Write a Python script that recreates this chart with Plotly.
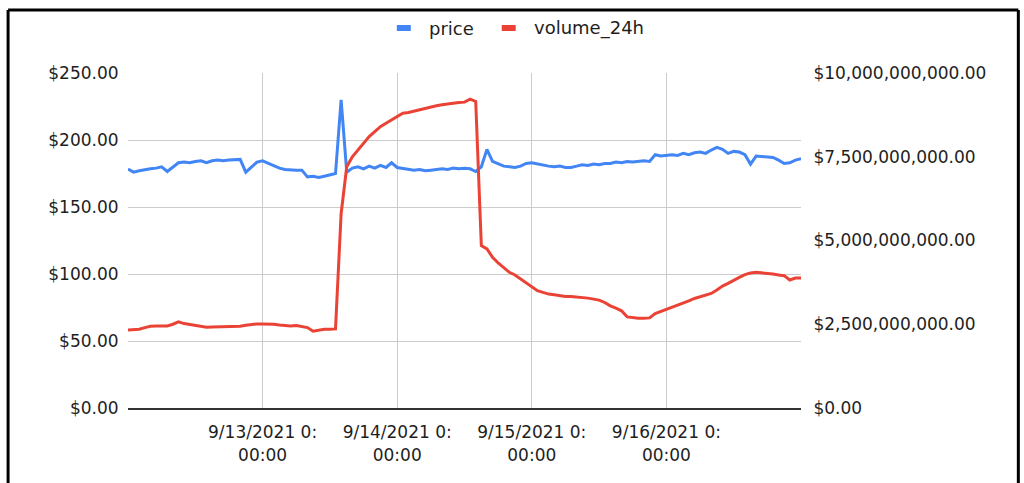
import pandas as pd
import plotly.graph_objects as go

# Hourly samples from 9/12/2021 00:00 to 9/17/2021 00:00
timestamps = pd.date_range("2021-09-12 00:00", periods=121, freq="h")

price = [
    178.3, 176.0, 177.0, 178.0, 178.5, 179.0, 180.0, 176.5, 180.0, 183.0,
    183.5, 183.0, 184.0, 184.5, 183.0, 184.5, 185.0, 184.5, 185.0, 185.5,
    185.5, 176.0, 180.0, 183.5, 184.5, 182.5, 180.5, 179.0, 178.0, 177.5,
    177.5, 177.5, 172.5, 173.0, 172.0, 173.0, 174.0, 175.0, 230.0, 176.0,
    179.0, 180.0, 178.5, 180.5, 179.0, 181.0, 179.5, 183.0, 179.5, 179.0,
    178.5, 177.5, 178.0, 177.0, 177.5, 178.0, 178.5, 178.0, 179.0, 178.5,
    179.0, 178.5, 176.5, 180.0, 193.0, 184.0, 182.0, 180.5, 180.0, 179.5,
    180.5, 182.5, 183.0, 182.0, 181.0, 180.5, 180.0, 180.5, 179.5, 179.5,
    180.5, 181.5, 181.0, 182.0, 181.5, 182.5, 182.5, 183.5, 183.0, 184.0,
    183.5, 184.0, 184.5, 184.0, 189.0, 188.0, 188.5, 189.0, 188.5, 190.0,
    189.0, 190.5, 191.0, 190.0, 192.5, 194.5, 193.0, 190.0, 191.5, 191.0,
    189.0, 182.0, 188.0, 187.5, 187.5, 187.0, 185.0, 182.5, 183.0, 185.0,
    186.0,
]

volume_24h_bn = [
    2.33, 2.33, 2.35, 2.40, 2.44, 2.45, 2.46, 2.45, 2.50, 2.57,
    2.52, 2.49, 2.46, 2.42, 2.41, 2.42, 2.42, 2.42, 2.43, 2.43,
    2.44, 2.47, 2.50, 2.51, 2.51, 2.51, 2.50, 2.48, 2.46, 2.45,
    2.46, 2.44, 2.40, 2.29, 2.33, 2.35, 2.35, 2.36, 5.80, 7.20,
    7.50, 7.70, 7.90, 8.10, 8.25, 8.40, 8.50, 8.60, 8.72, 8.80,
    8.82, 8.86, 8.90, 8.95, 9.00, 9.02, 9.05, 9.08, 9.10, 9.12,
    9.13, 9.22, 9.15, 4.85, 4.75, 4.50, 4.33, 4.20, 4.05, 3.97,
    3.85, 3.72, 3.60, 3.50, 3.45, 3.40, 3.38, 3.35, 3.33, 3.33,
    3.32, 3.31, 3.28, 3.25, 3.22, 3.15, 3.05, 2.98, 2.90, 2.72,
    2.69, 2.68, 2.68, 2.69, 2.82, 2.88, 2.95, 3.00, 3.06, 3.12,
    3.20, 3.27, 3.32, 3.36, 3.42, 3.52, 3.64, 3.72, 3.82, 3.90,
    3.98, 4.03, 4.05, 4.04, 4.02, 4.00, 3.97, 3.95, 3.82, 3.88,
    3.88,
]
volume_24h = [v * 1e9 for v in volume_24h_bn]

tick_dates = ["2021-09-13", "2021-09-14", "2021-09-15", "2021-09-16"]
tick_labels = [
    "9/13/2021 0:<br>00:00",
    "9/14/2021 0:<br>00:00",
    "9/15/2021 0:<br>00:00",
    "9/16/2021 0:<br>00:00",
]

series_names = ["price", "volume_24h"]

BLUE = "#4285F4"
RED = "#EA4335"
FONT = "DejaVu Sans, sans-serif"
TEXT = "#1e1e1e"

W, H = 1024, 483
L, R, T, B = 128, 222.5, 73, 75
pw, ph = W - L - R, H - T - B


def px(x):
    return (x - L) / pw


def py(y):
    return (H - B - y) / ph


fig = go.Figure()
fig.add_trace(go.Scatter(x=timestamps, y=price, mode="lines", name=series_names[0],
                         line=dict(color=BLUE, width=3)))
fig.add_trace(go.Scatter(x=timestamps, y=volume_24h, mode="lines", name=series_names[1],
                         yaxis="y2", line=dict(color=RED, width=3)))

# outer frame
frame = [
    (8, 10, 1019, 10),
    (8, 10, 8, 500),
    (1019, 10, 1019, 500),
]
shapes = [
    dict(type="line", xref="paper", yref="paper",
         x0=px(a), y0=py(b), x1=px(c), y1=py(d),
         line=dict(color="black", width=3), layer="above")
    for a, b, c, d in frame
]

# legend row at the top: swatch + label per series
legend_x = [397, 502]
annotations = []
for name, color, x0 in zip(series_names, [BLUE, RED], legend_x):
    shapes.append(dict(type="rect", xref="paper", yref="paper",
                       x0=px(x0), x1=px(x0 + 14), y0=py(31), y1=py(25),
                       fillcolor=color, line=dict(width=0)))
    annotations.append(dict(text=name, xref="paper", yref="paper",
                            x=px(x0 + 30), y=py(28), xanchor="left", yanchor="middle",
                            showarrow=False, font=dict(size=18, color=TEXT)))

fig.update_layout(
    width=W, height=H,
    margin=dict(l=L, r=R, t=T, b=B),
    paper_bgcolor="white", plot_bgcolor="white",
    font=dict(family=FONT, size=17, color=TEXT),
    showlegend=False,
    shapes=shapes,
    annotations=annotations,
    xaxis=dict(
        range=["2021-09-12 00:00", "2021-09-17 00:00"],
        tickvals=tick_dates, ticktext=tick_labels,
        showgrid=True, gridcolor="#cccccc", gridwidth=1,
        showline=True, linecolor="#333333", linewidth=2,
        ticks="outside", ticklen=8, tickcolor="rgba(0,0,0,0)",
        zeroline=False,
    ),
    yaxis=dict(
        range=[0, 250], tickvals=[0, 50, 100, 150, 200, 250],
        tickformat="$,.2f", showgrid=True, gridcolor="#cccccc", gridwidth=1,
        zeroline=False, ticks="outside", ticklen=5, tickcolor="rgba(0,0,0,0)",
    ),
    yaxis2=dict(
        range=[0, 10e9], tickvals=[0, 2.5e9, 5e9, 7.5e9, 10e9],
        tickformat="$,.2f", overlaying="y", side="right", showgrid=False,
        zeroline=False, ticks="outside", ticklen=8, tickcolor="rgba(0,0,0,0)",
    ),
)

fig.write_html("out.html")
